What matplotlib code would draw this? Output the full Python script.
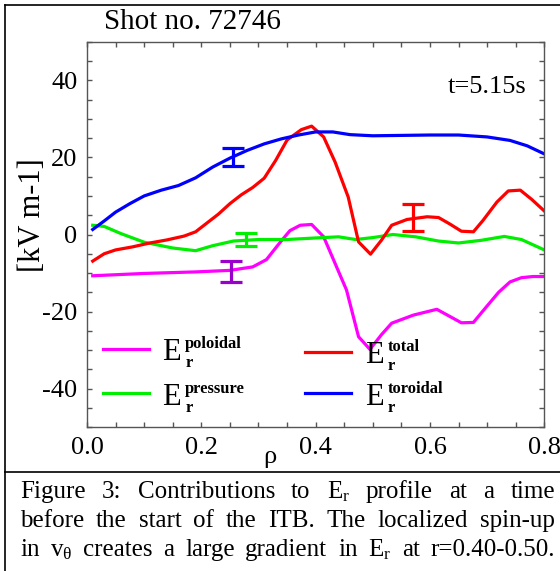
import numpy as np
import matplotlib
matplotlib.use("Agg")
import matplotlib.pyplot as plt
from matplotlib.ticker import MultipleLocator, FormatStrFormatter
from matplotlib.lines import Line2D

plt.rcParams['font.family'] = ['Liberation Serif', 'DejaVu Serif']
plt.rcParams['mathtext.fontset'] = 'custom'
plt.rcParams['mathtext.rm'] = 'Liberation Serif'
plt.rcParams['mathtext.it'] = 'Liberation Serif:italic'
plt.rcParams['mathtext.bf'] = 'Liberation Serif:bold'
plt.rcParams['axes.unicode_minus'] = False

# E_r contributions, kV/m vs rho
rho_tor = [0.01, 0.03, 0.05, 0.075, 0.10, 0.13, 0.16, 0.19, 0.22, 0.25, 0.28, 0.31, 0.34,
           0.37, 0.40, 0.43, 0.46, 0.50, 0.55, 0.60, 0.65, 0.70, 0.74, 0.77, 0.80]
e_tor = [1.3, 3.5, 5.8, 8.0, 10.0, 11.5, 12.7, 14.7, 17.5, 19.8, 21.8, 23.5, 24.8,
         25.8, 26.6, 26.6, 25.9, 25.6, 25.7, 25.8, 25.8, 25.3, 24.4, 23.0, 20.9]

rho_tot = [0.01, 0.03, 0.05, 0.08, 0.11, 0.14, 0.17, 0.19, 0.21, 0.23, 0.25, 0.27, 0.29,
           0.31, 0.33, 0.35, 0.375, 0.393, 0.414, 0.434, 0.457, 0.475, 0.496, 0.515,
           0.533, 0.56, 0.595, 0.615, 0.635, 0.655, 0.676, 0.693, 0.717, 0.737, 0.758,
           0.778, 0.80]
e_tot = [-6.9, -5.0, -4.0, -3.2, -2.2, -1.4, -0.4, 0.7, 3.0, 5.3, 8.0, 10.3, 12.2,
         14.6, 19.2, 24.5, 27.2, 28.1, 25.3, 18.8, 9.7, -1.9, -5.1, -1.5,
         2.4, 3.9, 4.6, 4.4, 2.7, 0.85, 0.7, 3.7, 8.4, 11.3, 11.5,
         9.1, 6.1]

rho_pre = [0.01, 0.03, 0.06, 0.10, 0.15, 0.19, 0.22, 0.256, 0.30, 0.35, 0.40, 0.44, 0.47,
           0.50, 0.535, 0.575, 0.615, 0.65, 0.69, 0.73, 0.76, 0.80]
e_pre = [2.4, 2.1, 0.2, -2.0, -3.5, -4.2, -2.9, -1.7, -1.3, -1.3, -0.9, -0.6, -1.3,
         -0.8, 0.0, -0.6, -1.7, -2.2, -1.5, -0.5, -1.3, -4.0]

rho_pol = [0.01, 0.10, 0.19, 0.25, 0.29, 0.314, 0.338, 0.355, 0.373, 0.393, 0.414, 0.434,
           0.454, 0.475, 0.495, 0.515, 0.533, 0.571, 0.612, 0.655, 0.676, 0.699, 0.72,
           0.74, 0.76, 0.78, 0.80]
e_pol = [-10.7, -10.1, -9.7, -9.3, -8.4, -6.5, -2.0, 1.0, 2.4, 2.6, -0.6, -7.5,
         -14.4, -26.5, -29.8, -26.0, -23.0, -20.9, -19.4, -22.9, -22.8, -18.7, -15.0,
         -12.3, -11.2, -10.9, -10.9]

# error bars: rho, centre, half-width
eb_rho = [0.255, 0.278, 0.252, 0.571]
eb_val = [20.15, -1.2, -9.5, 4.3]
eb_err = [2.4, 1.7, 2.75, 3.5]

c_pol, c_tot, c_pre, c_tor = "#ff00ff", "#ff0000", "#00ee00", "#0000ff"
eb_col = [c_tor, c_pre, "#9900cc", c_tot]

fig = plt.figure(figsize=(5.6, 5.71), dpi=100)
ax = fig.add_axes([87/560, 1-427.3/571, 457.3/560, 385.6/571])

lw = 2.3
ax.plot(rho_pol, e_pol, color=c_pol, lw=lw)
ax.plot(rho_pre, e_pre, color=c_pre, lw=lw)
ax.plot(rho_tot, e_tot, color=c_tot, lw=lw)
ax.plot(rho_tor, e_tor, color=c_tor, lw=lw)
for x, y, e, c in zip(eb_rho, eb_val, eb_err, eb_col):
    ax.errorbar(x, y, yerr=e, fmt='none', ecolor=c, elinewidth=2.3,
                capsize=8, capthick=2.3)

ax.set_xlim(0, 0.8)
ax.set_ylim(-50, 50)
ax.xaxis.set_major_locator(MultipleLocator(0.2))
ax.xaxis.set_minor_locator(MultipleLocator(0.05))
ax.yaxis.set_major_locator(MultipleLocator(20))
ax.yaxis.set_minor_locator(MultipleLocator(5))
ax.xaxis.set_major_formatter(FormatStrFormatter('%.1f'))
ax.tick_params(which='both', direction='in', top=True, right=True, length=3.6,
               width=1, color='#555555', labelsize=19, pad=7)
for s in ax.spines.values():
    s.set_color('#555555')
    s.set_linewidth(1)

# legend, drawn by hand in axes fraction
leg = [(0.035, 0.203, c_pol, 'poloidal'), (0.477, 0.196, c_tot, 'total'),
       (0.035, 0.088, c_pre, 'pressure'), (0.477, 0.088, c_tor, 'toroidal')]
for x0, y0, c, name in leg:
    ax.plot([x0, x0 + 0.1], [y0, y0], color=c, lw=lw, transform=ax.transAxes)
    ax.text(x0 + 0.13, y0 - 0.01, 'E', fontsize=22, ha='left', va='center',
            transform=ax.transAxes)
    ax.text(x0 + 0.18, y0 + 0.012, name, fontsize=12, fontweight='bold',
            ha='left', va='center', transform=ax.transAxes)
    ax.text(x0 + 0.18, y0 - 0.037, 'r', fontsize=12, fontweight='bold',
            ha='left', va='center', transform=ax.transAxes)

ax.text(0.962, 0.882, 't=5.15s', fontsize=19, ha='right', va='center',
        transform=ax.transAxes)
fig.text(104/560, 1-22/571, 'Shot no. 72746', fontsize=21, ha='left', va='center')
fig.text(33/560, 1-215/571, '[kV m-1]', fontsize=22, rotation=90,
         ha='center', va='center')
fig.text(270/560, 1-457/571, 'ρ', fontsize=19, ha='center', va='center')

# frame lines
fig.add_artist(Line2D([5/560, 1], [1-5/571, 1-5/571], color='black', lw=1.2))
fig.add_artist(Line2D([5/560, 5/560], [0, 1-5/571], color='black', lw=1.2))
fig.add_artist(Line2D([5/560, 1], [1-472/571, 1-472/571], color='black', lw=1.2))

# justified caption
cap_lines = [
    ["Figure", "3:", "Contributions", "to", r"$\mathrm{E_r}$", "profile", "at", "a", "time"],
    ["before", "the", "start", "of", "the", "ITB.", "The", "localized", "spin-up"],
    ["in", r"$\mathrm{v_{θ}}$", "creates", "a", "large", "gradient", "in",
     r"$\mathrm{E_r}$", "at", "r=0.40-0.50."],
]
cap_base = [498, 527, 556]
x_left, x_right = 20, 555
renderer = fig.canvas.get_renderer()
for words, yb in zip(cap_lines, cap_base):
    ts = [fig.text(0, 1 - yb/571, w, fontsize=18, ha='left', va='baseline')
          for w in words]
    widths = [t.get_window_extent(renderer=renderer).width for t in ts]
    gap = (x_right - x_left - sum(widths)) / (len(ts) - 1)
    x = x_left
    for t, w in zip(ts, widths):
        t.set_x(x / 560)
        x += w + gap

fig.savefig("out.png", dpi=100)
